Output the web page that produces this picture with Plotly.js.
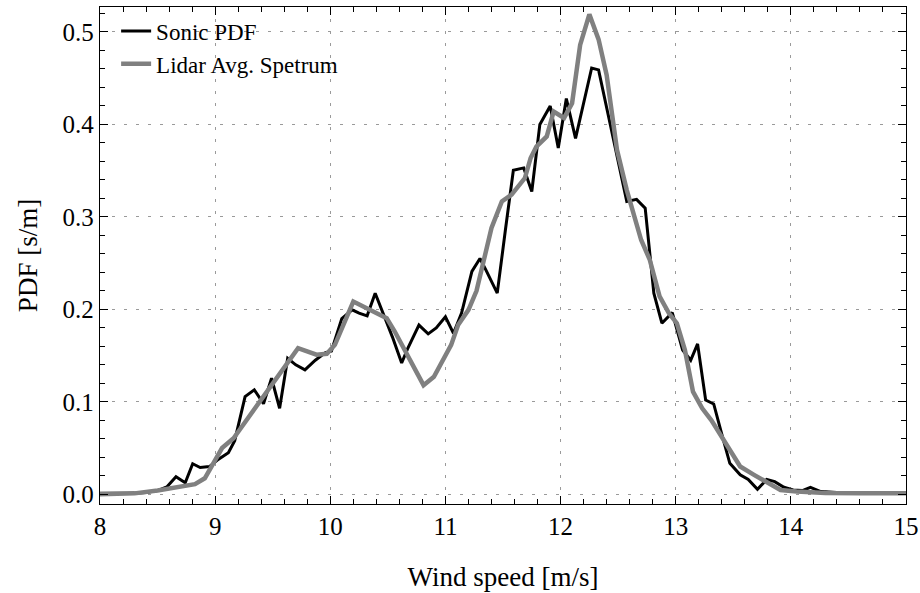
<!DOCTYPE html>
<html>
<head>
<meta charset="utf-8">
<script src="https://cdn.plot.ly/plotly-3.0.1.min.js"></script>
<style>html,body{margin:0;padding:0;background:#fff;}#chart{width:920px;height:593px;}</style>
</head>
<body>
<div id="chart"></div>
<script>
// Sonic PDF (wind speed [m/s], PDF [s/m])
const sonicX = [8.0, 8.1, 8.2, 8.3, 8.4, 8.5, 8.58, 8.66, 8.74, 8.805, 8.87, 8.95, 9.03, 9.115, 9.17, 9.26, 9.34, 9.42, 9.49, 9.56, 9.63, 9.7, 9.78, 9.87, 9.955, 10.01, 10.1, 10.19, 10.25, 10.32, 10.39, 10.46, 10.54, 10.62, 10.67, 10.77, 10.85, 10.92, 11.0, 11.07, 11.14, 11.23, 11.3, 11.35, 11.45, 11.52, 11.59, 11.68, 11.75, 11.82, 11.91, 11.98, 12.05, 12.13, 12.2, 12.27, 12.33, 12.45, 12.575, 12.66, 12.735, 12.81, 12.88, 12.97, 13.06, 13.13, 13.19, 13.26, 13.33, 13.4, 13.47, 13.56, 13.63, 13.71, 13.79, 13.86, 13.94, 14.02, 14.1, 14.17, 14.26, 14.4, 14.6, 14.8, 15.0];
const sonicY = [0.001, 0.001, 0.001, 0.001, 0.002, 0.004, 0.008, 0.019, 0.0125, 0.033, 0.029, 0.030, 0.038, 0.045, 0.058, 0.1056, 0.113, 0.098, 0.1255, 0.093, 0.147, 0.140, 0.1345, 0.145, 0.153, 0.155, 0.190, 0.1995, 0.196, 0.193, 0.2175, 0.196, 0.170, 0.142, 0.157, 0.183, 0.1735, 0.180, 0.192, 0.174, 0.196, 0.241, 0.255, 0.243, 0.2175, 0.285, 0.3505, 0.353, 0.3275, 0.400, 0.420, 0.3745, 0.428, 0.385, 0.423, 0.461, 0.459, 0.390, 0.3167, 0.319, 0.3095, 0.2175, 0.185, 0.1965, 0.156, 0.145, 0.1627, 0.102, 0.0977, 0.065, 0.0335, 0.021, 0.016, 0.0054, 0.016, 0.0137, 0.0076, 0.0046, 0.004, 0.0076, 0.003, 0.002, 0.001, 0.001, 0.001];

// Lidar averaged spectrum
const lidarX = [8.0, 8.3, 8.5, 8.7, 8.825, 8.91, 9.06, 9.16, 9.45, 9.72, 9.88, 9.97, 10.04, 10.2, 10.49, 10.56, 10.81, 10.9, 11.05, 11.11, 11.2, 11.27, 11.4, 11.49, 11.575, 11.69, 11.74, 11.79, 11.88, 11.94, 12.03, 12.1, 12.17, 12.25, 12.33, 12.4, 12.49, 12.575, 12.7, 12.775, 12.86, 12.94, 13.01, 13.08, 13.15, 13.23, 13.31, 13.56, 13.68, 13.91, 14.05, 14.3, 14.6, 15.0];
const lidarY = [0.0, 0.001, 0.004, 0.008, 0.011, 0.0173, 0.050, 0.0606, 0.110, 0.158, 0.151, 0.152, 0.1616, 0.2085, 0.1905, 0.176, 0.118, 0.127, 0.1616, 0.183, 0.1995, 0.220, 0.288, 0.3167, 0.324, 0.342, 0.3637, 0.376, 0.387, 0.414, 0.407, 0.423, 0.486, 0.519, 0.492, 0.4535, 0.3726, 0.329, 0.275, 0.2535, 0.214, 0.196, 0.185, 0.156, 0.111, 0.093, 0.080, 0.030, 0.021, 0.0046, 0.003, 0.0015, 0.001, 0.001];

const xTickVals = [8, 9, 10, 11, 12, 13, 14, 15];
const yTickVals = [0.0, 0.1, 0.2, 0.3, 0.4, 0.5];

const FONT = 'Liberation Serif, Times New Roman, serif';

const traces = [
  {x: sonicX, y: sonicY, name: 'Sonic PDF', type: 'scatter', mode: 'lines',
   line: {color: '#000000', width: 3}},
  {x: lidarX, y: lidarY, name: 'Lidar Avg. Spetrum', type: 'scatter', mode: 'lines',
   line: {color: '#808080', width: 4.5}}
];

const axisCommon = {
  showline: true, linecolor: '#000', linewidth: 1.2, mirror: 'allticks',
  ticks: 'inside', ticklen: 8, tickcolor: '#000', tickwidth: 1,
  showgrid: true, gridcolor: '#9a9a9a', gridwidth: 1, griddash: '3px,9px',
  zeroline: false, tickfont: {family: FONT, size: 25, color: '#000'}
};

const layout = {
  width: 920, height: 593,
  margin: {l: 100, r: 14, t: 7, b: 89},
  paper_bgcolor: '#fff', plot_bgcolor: '#fff',
  font: {family: FONT, color: '#000'},
  showlegend: true,
  legend: {x: 0.02, y: 0.995, xanchor: 'left', yanchor: 'top', bgcolor: 'rgba(0,0,0,0)',
           font: {family: FONT, size: 23, color: '#000'}, tracegroupgap: 0, itemwidth: 30},
  xaxis: Object.assign({}, axisCommon, {
    range: [8, 15], tickvals: xTickVals, ticktext: xTickVals.map(String),
    minor: {dtick: 0.2, tick0: 8, ticks: 'inside', ticklen: 5, tickcolor: '#000', showgrid: false},
    title: {text: 'Wind speed [m/s]', font: {family: FONT, size: 27, color: '#000'}, standoff: 27}
  }),
  yaxis: Object.assign({}, axisCommon, {
    range: [-0.0105, 0.527], tickvals: yTickVals, ticktext: yTickVals.map(v => v.toFixed(1)),
    minor: {dtick: 0.02, tick0: 0, ticks: 'inside', ticklen: 5, tickcolor: '#000', showgrid: false},
    title: {text: 'PDF [s/m]', font: {family: FONT, size: 27, color: '#000'}, standoff: 17}
  })
};

Plotly.newPlot('chart', traces, layout, {staticPlot: true, displayModeBar: false});
</script>
</body>
</html>
